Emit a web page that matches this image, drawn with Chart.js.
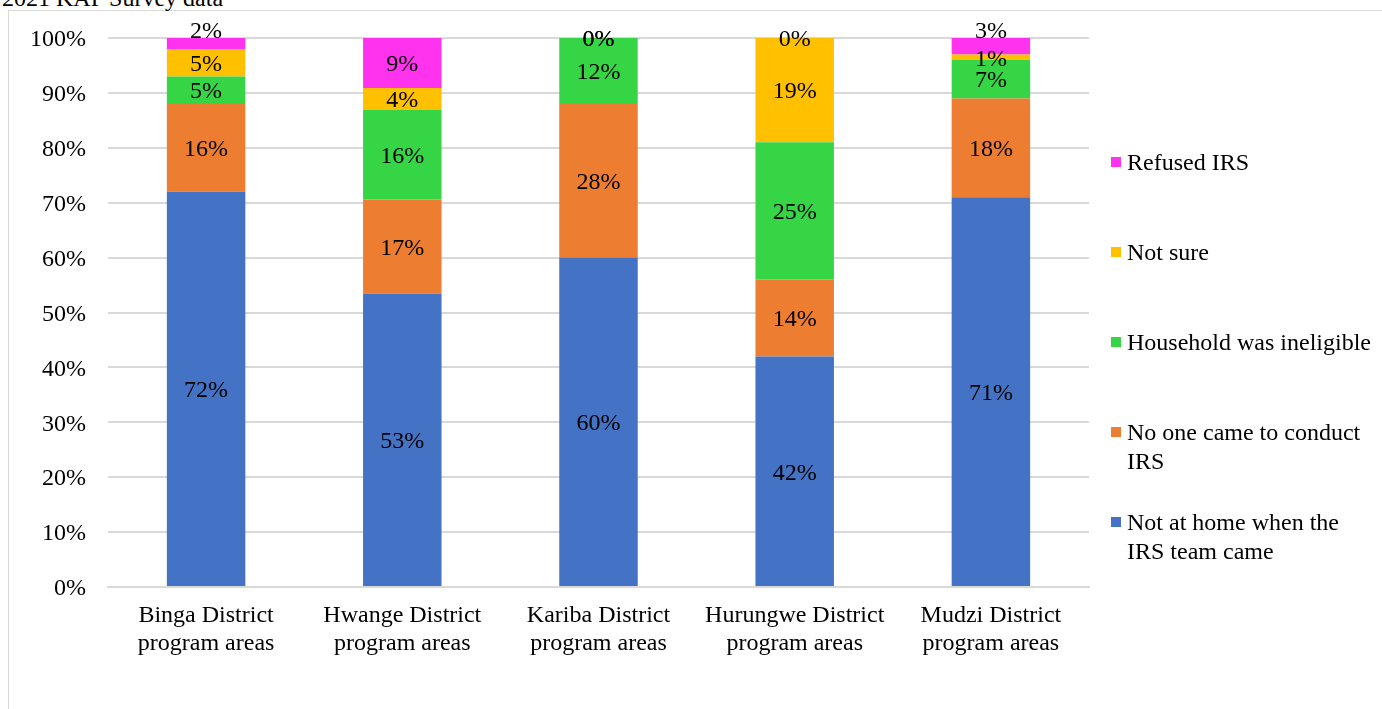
<!DOCTYPE html>
<html>
<head>
<meta charset="utf-8">
<title>2021 KAP Survey data</title>
<script src="https://cdn.jsdelivr.net/npm/chart.js@4/dist/chart.umd.min.js"></script>
<style>
    body { margin: 0; background: #fff; font-family: 'Liberation Serif', 'Times New Roman', serif; }
    #wrap { position: relative; width: 1382px; height: 709px; overflow: hidden; }
    #frame { position: absolute; left: 8px; top: 10px; width: 1400px; height: 720px;
             border-left: 1px solid #d9d9d9; border-top: 1px solid #d9d9d9; }
    #title { position: absolute; left: 2px; top: -14px; font-size: 24px; line-height: 24px; color: #000; white-space: nowrap; }
    #chart { position: absolute; left: 0; top: 0; }
    .legend-item { position: absolute; left: 1111px; width: 270px; font-size: 24px; line-height: 28.5px; color: #000; }
    .legend-item .box { position: absolute; left: 0; top: 9px; width: 10px; height: 10px; }
    .legend-item .text { margin-left: 16px; width: 248px; }
</style>
</head>
<body>
<div id="wrap">
    <div id="frame"></div>
    <div id="title">2021 KAP Survey data</div>
    <canvas id="chart" width="1382" height="709"></canvas>
    <div id="legend"></div>
</div>
<script>
// Districts on the x axis (two lines each)
const categories = [
    ['Binga District', 'program areas'],
    ['Hwange District', 'program areas'],
    ['Kariba District', 'program areas'],
    ['Hurungwe District', 'program areas'],
    ['Mudzi District', 'program areas']
];

// Reasons, bottom of the stack first
const seriesNames = [
    'Not at home when the IRS team came',
    'No one came to conduct IRS',
    'Household was ineligible',
    'Not sure',
    'Refused IRS'
];
const seriesColors = ['#4472C4', '#ED7D31', '#36D546', '#FFC000', '#FF33EE'];

// Share of households (%) per district
const notAtHome  = [72, 53.4, 60, 42, 71];
const noOneCame  = [16, 17.2, 28, 14, 18];
const ineligible = [5, 16.3, 12, 25, 7];
const notSure    = [5, 4.0, 0, 19, 1];
const refused    = [2, 9.1, 0, 0, 3];

const yTicks = [0, 10, 20, 30, 40, 50, 60, 70, 80, 90, 100];

const seriesValues = [notAtHome, noOneCame, ineligible, notSure, refused];

const FONT = "'Liberation Serif', 'Times New Roman', serif";
Chart.defaults.font.family = FONT;
Chart.defaults.font.size = 24;
Chart.defaults.color = '#000';

// Percent labels in the middle of each segment
const segmentLabels = {
    id: 'segmentLabels',
    afterDatasetsDraw(chart) {
        const ctx = chart.ctx;
        const last = chart.data.datasets.length - 1;
        ctx.save();
        ctx.font = '24px ' + FONT;
        ctx.fillStyle = '#000';
        ctx.textAlign = 'center';
        ctx.textBaseline = 'middle';
        chart.data.datasets.forEach((ds, di) => {
            chart.getDatasetMeta(di).data.forEach((bar, i) => {
                const v = ds.data[i];
                const top = Math.min(bar.y, bar.base);
                const h = Math.abs(bar.base - bar.y);
                let y = top + h / 2 + 2;
                // small top segment: lift the label above the bar
                if (di === last && v > 0 && h < 20) y = top - 6;
                ctx.fillText(Math.round(v) + '%', bar.x, y);
            });
        });
        ctx.restore();
    }
};

const chart = new Chart(document.getElementById('chart').getContext('2d'), {
    type: 'bar',
    data: {
        labels: categories,
        datasets: seriesNames.map((name, i) => ({
            label: name,
            data: seriesValues[i],
            backgroundColor: seriesColors[i],
            borderWidth: 0,
            barPercentage: 0.4,
            categoryPercentage: 1
        }))
    },
    options: {
        responsive: false,
        animation: false,
        layout: { padding: { left: 0, right: 293, top: 38, bottom: 0 } },
        plugins: {
            legend: { display: false },
            tooltip: { enabled: false }
        },
        scales: {
            x: {
                stacked: true,
                grid: { display: false, drawTicks: false },
                border: { display: true, color: '#d9d9d9', width: 2 },
                ticks: { padding: 15, maxRotation: 0, autoSkip: false, font: { size: 24, lineHeight: 1.17 } },
                afterFit(scale) { scale.height = 122; }
            },
            y: {
                stacked: true,
                min: 0,
                max: 100,
                afterBuildTicks(scale) { scale.ticks = yTicks.map(v => ({ value: v })); },
                grid: { color: '#d9d9d9', lineWidth: 2, drawTicks: false },
                border: { display: false },
                ticks: { padding: 22, labelOffset: 2, callback: v => v + '%' },
                afterFit(scale) { scale.width = 108; }
            }
        }
    },
    plugins: [segmentLabels]
});

// Legend on the right, top entry is the top of the stack
const legend = document.getElementById('legend');
seriesNames.slice().reverse().forEach((name, i) => {
    const color = seriesColors[seriesNames.length - 1 - i];
    const item = document.createElement('div');
    item.className = 'legend-item';
    item.style.top = (148 + i * 90) + 'px';
    item.innerHTML = '<div class="box" style="background:' + color + '"></div><div class="text">' + name + '</div>';
    legend.appendChild(item);
});
</script>
</body>
</html>
